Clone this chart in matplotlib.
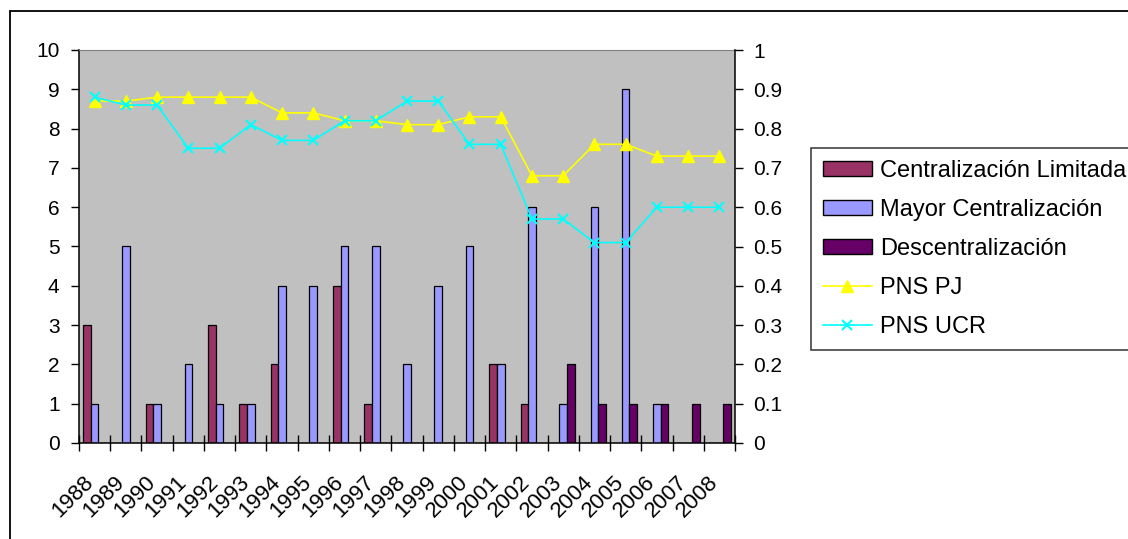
import matplotlib
matplotlib.use("Agg")
import matplotlib.pyplot as plt
import numpy as np
from matplotlib.patches import Rectangle, Patch
from matplotlib.lines import Line2D

plt.rcParams['font.family'] = ['Liberation Sans', 'DejaVu Sans']

years = [str(y) for y in range(1988, 2009)]

cent_limitada = [3, 0, 1, 0, 3, 1, 2, 0, 4, 1, 0, 0, 0, 2, 1, 0, 0, 0, 0, 0, 0]
mayor_cent = [1, 5, 1, 2, 1, 1, 4, 4, 5, 5, 2, 4, 5, 2, 6, 1, 6, 9, 1, 0, 0]
descent = [0, 0, 0, 0, 0, 0, 0, 0, 0, 0, 0, 0, 0, 0, 0, 2, 1, 1, 1, 1, 1]

pns_pj = [0.87, 0.87, 0.88, 0.88, 0.88, 0.88, 0.84, 0.84, 0.82, 0.82, 0.81,
          0.81, 0.83, 0.83, 0.68, 0.68, 0.76, 0.76, 0.73, 0.73, 0.73]
pns_ucr = [0.88, 0.86, 0.86, 0.75, 0.75, 0.81, 0.77, 0.77, 0.82, 0.82, 0.87,
           0.87, 0.76, 0.76, 0.57, 0.57, 0.51, 0.51, 0.60, 0.60, 0.60]

bar_labels = ["Centralización Limitada", "Mayor Centralización", "Descentralización"]
bar_colors = ["#993366", "#9999FF", "#660066"]
line_labels = ["PNS PJ", "PNS UCR"]
right_ticks = ['0', '0.1', '0.2', '0.3', '0.4', '0.5', '0.6', '0.7', '0.8', '0.9', '1']

W, H = 1128, 539
fig = plt.figure(figsize=(W / 100, H / 100), dpi=100)

# outer chart frame (only its top and left edges fall inside the canvas)
frame = Rectangle((9.5 / W, -0.2), 1.2, 0.2 + 1 - 10.5 / H,
                  transform=fig.transFigure, fill=False,
                  edgecolor='black', linewidth=1.3)
fig.patches.append(frame)

left, right, top, bottom = 79, 735, 50, 443
ax = fig.add_axes([left / W, 1 - bottom / H, (right - left) / W, (bottom - top) / H])
ax.set_facecolor('#C0C0C0')

x = np.arange(len(years))
bw = 0.243
for k, (vals, col, lab) in enumerate(zip([cent_limitada, mayor_cent, descent], bar_colors, bar_labels)):
    ax.bar(x + (k - 1) * bw, vals, width=bw, color=col, edgecolor='black',
           linewidth=0.9, label=lab, zorder=2)

ax.set_xlim(-0.5, len(years) - 0.5)
ax.set_ylim(0, 10)
ax.set_yticks(range(0, 11))
ax.tick_params(axis='y', direction='out', length=6, width=1, pad=8, labelsize=15)
ax.set_xticks(np.arange(-0.5, len(years), 1.0))
ax.set_xticklabels([])
ax.tick_params(axis='x', direction='inout', length=11, width=1)

for s in ['left', 'bottom']:
    ax.spines[s].set_linewidth(1.1)
ax.spines['top'].set_color('#808080')
ax.spines['right'].set_visible(False)

for i, lab in enumerate(years):
    ax.annotate(lab, xy=(i, 0), xycoords=('data', 'axes fraction'),
                xytext=(-12, -29), textcoords='offset pixels',
                rotation=45, rotation_mode='anchor', ha='right', va='top',
                fontsize=16)

ax2 = ax.twinx()
ax2.set_ylim(0, 1)
ax2.set_yticks(np.round(np.arange(0, 1.01, 0.1), 1))
ax2.set_yticklabels(right_ticks)
ax2.tick_params(axis='y', direction='out', length=6, width=1, pad=7, labelsize=15)
for s in ['left', 'top', 'bottom']:
    ax2.spines[s].set_visible(False)
ax2.spines['right'].set_linewidth(1.1)

ax2.plot(x, pns_pj, color='#FFFF00', linewidth=1.2, marker='^', markersize=8.5,
         markerfacecolor='#FFFF00', markeredgecolor='#FFFF00', label=line_labels[0], zorder=3)
ax2.plot(x, pns_ucr, color='#00FFFF', linewidth=1.2, marker='x', markersize=7,
         markeredgewidth=1.5, label=line_labels[1], zorder=4)
ax2.set_xlim(-0.5, len(years) - 0.5)

handles = [Patch(facecolor=c, edgecolor='black', linewidth=1) for c in bar_colors]
handles += [Line2D([], [], color='#FFFF00', marker='^', markersize=8.5, linewidth=1.2),
            Line2D([], [], color='#00FFFF', marker='x', markersize=7, markeredgewidth=1.5, linewidth=1.2)]
leg = fig.legend(handles, bar_labels + line_labels, loc='upper left',
                 bbox_to_anchor=(811 / W, 1 - 148 / H), bbox_transform=fig.transFigure,
                 borderaxespad=0, fontsize=17, frameon=True, fancybox=False,
                 handlelength=2.08, handleheight=0.55, handletextpad=0.34,
                 labelspacing=0.72, borderpad=0.5)
leg.get_frame().set_edgecolor('black')
leg.get_frame().set_linewidth(1.1)

fig.savefig('out.png', dpi=100)
